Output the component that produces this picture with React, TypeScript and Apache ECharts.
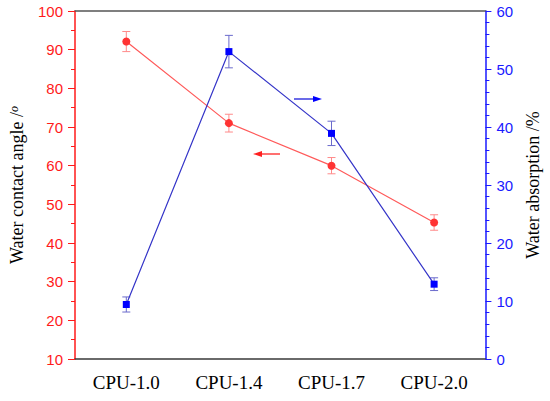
import React, { useEffect, useRef } from "react";
import * as echarts from "echarts";

const categories = ["CPU-1.0", "CPU-1.4", "CPU-1.7", "CPU-2.0"];
const contactAngle = [92.1, 71.0, 60.0, 45.3];
const contactAngleErr = [2.6, 2.3, 2.1, 2.0];
const absorption = [9.4, 53.0, 38.9, 12.9];
const absorptionErr = [1.3, 2.8, 2.1, 1.1];

const RED_AXIS = "#ff1a1a";
const BLUE_AXIS = "#1a1aff";
const RED_LINE = "#ff5a5a";
const RED_MARK = "#ff3333";
const BLUE_LINE = "#3535c8";
const BLUE_MARK = "#0000ff";

function errorRender(color: string) {
  return (params: any, api: any) => {
    const x = api.value(0);
    const lo = api.coord([x, api.value(1)]);
    const hi = api.coord([x, api.value(2)]);
    const w = 4;
    const style = { stroke: color, lineWidth: 1 };
    return {
      type: "group",
      children: [
        { type: "line", shape: { x1: lo[0], y1: lo[1], x2: hi[0], y2: hi[1] }, style },
        { type: "line", shape: { x1: lo[0] - w, y1: lo[1], x2: lo[0] + w, y2: lo[1] }, style },
        { type: "line", shape: { x1: hi[0] - w, y1: hi[1], x2: hi[0] + w, y2: hi[1] }, style },
      ],
    };
  };
}

export default function App() {
  const ref = useRef<HTMLDivElement>(null);
  useEffect(() => {
    if (!ref.current) return;
    const chart = echarts.init(ref.current, undefined, { renderer: "svg" });
    const angleErrData = categories.map((_, i) => [i, contactAngle[i] - contactAngleErr[i], contactAngle[i] + contactAngleErr[i]]);
    const absErrData = categories.map((_, i) => [i, absorption[i] - absorptionErr[i], absorption[i] + absorptionErr[i]]);
    const serif = "'Liberation Serif', 'Times New Roman', serif";
    const sans = "'Liberation Sans', Arial, sans-serif";
    chart.setOption({
      animation: false,
      backgroundColor: "#ffffff",
      grid: { left: 67, right: 62, top: 11, bottom: 42 },
      xAxis: [
        {
          type: "category",
          data: categories,
          boundaryGap: true,
          position: "bottom",
          axisLine: { lineStyle: { color: "#3a3a3a", width: 1.5 } },
          axisTick: { alignWithLabel: true, length: 6, lineStyle: { color: "#3a3a3a", width: 1 } },
          axisLabel: { fontFamily: serif, fontSize: 19, color: "#000", margin: 14 },
          splitLine: { show: false },
        },
        {
          type: "category",
          data: categories,
          position: "top",
          axisLine: { lineStyle: { color: "#555", width: 1.5 } },
          axisTick: { show: false },
          axisLabel: { show: false },
          splitLine: { show: false },
        },
      ],
      yAxis: [
        {
          type: "value",
          position: "left",
          min: 10,
          max: 100,
          interval: 10,
          name: "Water contact angle /{s|o}",
          nameLocation: "middle",
          nameRotate: 90,
          nameGap: 49,
          nameTextStyle: {
            fontFamily: serif,
            fontSize: 18,
            color: "#000",
            rich: { s: { fontFamily: serif, fontSize: 12, fontStyle: "italic", verticalAlign: "top", color: "#000" } },
          },
          axisLine: { show: true, lineStyle: { color: RED_AXIS, width: 1.5 } },
          axisTick: { show: true, length: 7, lineStyle: { color: RED_AXIS, width: 1 } },
          minorTick: { show: true, splitNumber: 2, length: 4, lineStyle: { color: RED_AXIS, width: 1 } },
          axisLabel: { fontFamily: sans, fontSize: 15, color: RED_AXIS, margin: 12 },
          splitLine: { show: false },
        },
        {
          type: "value",
          position: "right",
          min: 0,
          max: 60,
          interval: 10,
          name: "Water absorption /%",
          nameLocation: "middle",
          nameRotate: 90,
          nameGap: 38,
          nameTextStyle: { fontFamily: serif, fontSize: 18, color: "#000" },
          axisLine: { show: true, lineStyle: { color: BLUE_AXIS, width: 1.5 } },
          axisTick: { show: true, length: 6, lineStyle: { color: BLUE_AXIS, width: 1 } },
          minorTick: { show: true, splitNumber: 5, length: 4, lineStyle: { color: BLUE_AXIS, width: 1 } },
          axisLabel: { fontFamily: sans, fontSize: 15, color: BLUE_AXIS, margin: 11 },
          splitLine: { show: false },
        },
      ],
      series: [
        {
          type: "custom",
          name: "angleErr",
          xAxisIndex: 0,
          yAxisIndex: 0,
          data: angleErrData,
          renderItem: errorRender("#ff8a8a"),
          z: 1,
        },
        {
          type: "custom",
          name: "absErr",
          xAxisIndex: 0,
          yAxisIndex: 1,
          data: absErrData,
          renderItem: errorRender("#6a6acc"),
          z: 1,
        },
        {
          type: "line",
          name: "Water contact angle",
          xAxisIndex: 0,
          yAxisIndex: 0,
          data: contactAngle,
          symbol: "circle",
          symbolSize: 8,
          lineStyle: { color: RED_LINE, width: 1.2 },
          itemStyle: { color: RED_MARK },
          z: 3,
        },
        {
          type: "line",
          name: "Water absorption",
          xAxisIndex: 0,
          yAxisIndex: 1,
          data: absorption,
          symbol: "rect",
          symbolSize: 7,
          lineStyle: { color: BLUE_LINE, width: 1.2 },
          itemStyle: { color: BLUE_MARK },
          z: 4,
        },
      ],
      graphic: [
        { type: "line", shape: { x1: 280, y1: 154, x2: 260, y2: 154 }, style: { stroke: "#ff4040", lineWidth: 1.5 } },
        { type: "polygon", shape: { points: [[253, 154], [262, 151], [262, 157]] }, style: { fill: "#ff2020" } },
        { type: "line", shape: { x1: 294, y1: 99, x2: 314, y2: 99 }, style: { stroke: "#3a3ae0", lineWidth: 1.5 } },
        { type: "polygon", shape: { points: [[322, 99], [313, 96], [313, 102]] }, style: { fill: "#0000ff" } },
      ],
    });
    return () => chart.dispose();
  }, []);
  return <div ref={ref} style={{ position: "absolute", left: 0, top: 0, width: 550, height: 401 }} />;
}
